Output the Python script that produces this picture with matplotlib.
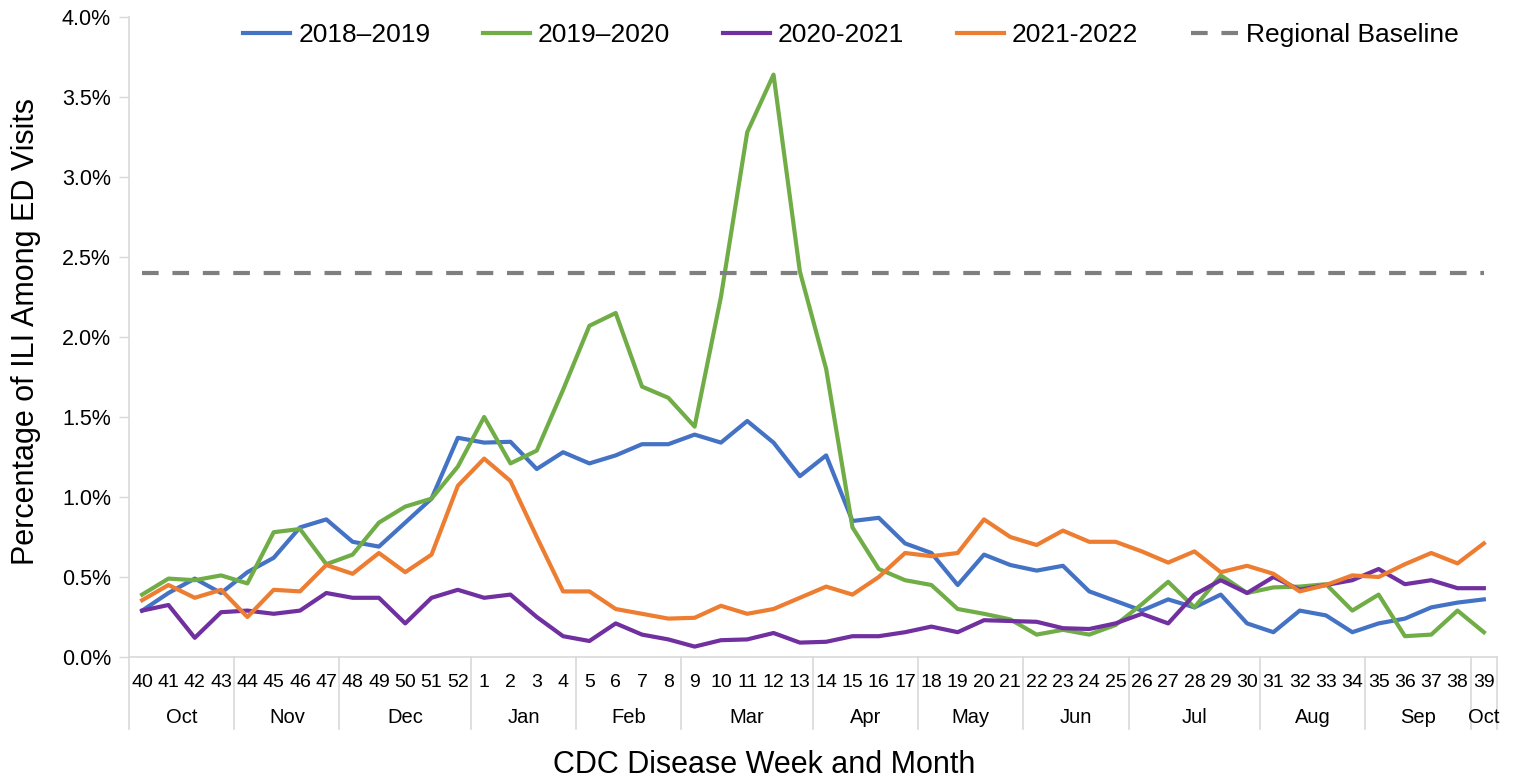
import numpy as np
import matplotlib
matplotlib.use("Agg")
import matplotlib.pyplot as plt

plt.rcParams['font.family'] = ['Liberation Sans', 'DejaVu Sans']

weeks = list(range(40, 53)) + list(range(1, 40))

s1819 = [0.29, 0.40, 0.49, 0.40, 0.53, 0.62, 0.81, 0.86, 0.72, 0.69, 0.84, 0.99, 1.37,
         1.34, 1.345, 1.175, 1.28, 1.21, 1.26, 1.33, 1.33, 1.39, 1.34,
         1.475, 1.34, 1.13, 1.26, 0.85, 0.87, 0.71, 0.65, 0.45, 0.64,
         0.575, 0.54, 0.57, 0.41, 0.35, 0.29, 0.36, 0.31, 0.39, 0.21,
         0.155, 0.29, 0.26, 0.155, 0.21, 0.24, 0.31, 0.34, 0.36]
s1920 = [0.39, 0.49, 0.48, 0.51, 0.46, 0.78, 0.80, 0.58, 0.64, 0.84, 0.94, 0.99, 1.19,
         1.50, 1.21, 1.29, 1.67, 2.07, 2.15, 1.69, 1.62, 1.44, 2.25,
         3.28, 3.64, 2.41, 1.80, 0.81, 0.55, 0.48, 0.45, 0.30, 0.27,
         0.235, 0.14, 0.17, 0.14, 0.20, 0.33, 0.47, 0.31, 0.51, 0.40,
         0.435, 0.44, 0.455, 0.29, 0.39, 0.13, 0.14, 0.29, 0.155]
s2021 = [0.29, 0.325, 0.12, 0.28, 0.29, 0.27, 0.29, 0.40, 0.37, 0.37, 0.21, 0.37, 0.42,
         0.37, 0.39, 0.25, 0.13, 0.10, 0.21, 0.14, 0.11, 0.065, 0.105,
         0.11, 0.15, 0.09, 0.095, 0.13, 0.13, 0.155, 0.19, 0.155, 0.23,
         0.225, 0.22, 0.18, 0.175, 0.21, 0.27, 0.21, 0.39, 0.48, 0.40,
         0.50, 0.42, 0.45, 0.48, 0.55, 0.455, 0.48, 0.43, 0.43]
s2122 = [0.355, 0.45, 0.37, 0.42, 0.25, 0.42, 0.41, 0.575, 0.52, 0.65, 0.53, 0.64, 1.07,
         1.24, 1.10, 0.75, 0.41, 0.41, 0.30, 0.27, 0.24, 0.245, 0.32,
         0.27, 0.30, 0.37, 0.44, 0.39, 0.50, 0.65, 0.63, 0.65, 0.86,
         0.75, 0.70, 0.79, 0.72, 0.72, 0.66, 0.59, 0.66, 0.53, 0.57,
         0.52, 0.41, 0.45, 0.51, 0.50, 0.58, 0.65, 0.585, 0.71]
baseline = 2.4

months = ['Oct', 'Nov', 'Dec', 'Jan', 'Feb', 'Mar', 'Apr', 'May', 'Jun', 'Jul', 'Aug', 'Sep', 'Oct']
month_weeks = [4, 4, 5, 4, 4, 5, 4, 4, 4, 5, 4, 4, 1]

x = np.arange(len(weeks))
grey = '#D9D9D9'

fig = plt.figure(figsize=(15.13, 7.81), dpi=100)
ax = fig.add_axes([129/1513, 1-657/781, 1368/1513, 640/781])

ax.plot(x, s1819, color='#4472C4', lw=3, label='2018\u20132019')
ax.plot(x, s1920, color='#70AD47', lw=3, label='2019\u20132020')
ax.plot(x, s2021, color='#7030A0', lw=3, label='2020-2021')
ax.plot(x, s2122, color='#ED7D31', lw=3, label='2021-2022')
ax.plot([x[0], x[-1]], [baseline, baseline], color='#7F7F7F', lw=3,
        dashes=(4, 3.3), label='Regional Baseline')

ax.set_xlim(-0.5, len(weeks) - 0.5)
ax.set_ylim(0, 4.0)
ax.set_yticks(np.arange(0, 4.01, 0.5))
ax.set_yticklabels(['%.1f%%' % v for v in np.arange(0, 4.01, 0.5)], fontsize=15.5)
ax.set_xticks(x)
ax.set_xticklabels([str(w) for w in weeks], fontsize=14)
ax.tick_params(axis='x', length=0, pad=12)
ax.tick_params(axis='y', length=7, width=1, color=grey, pad=6)

for s in ['top', 'right']:
    ax.spines[s].set_visible(False)
for s in ['left', 'bottom']:
    ax.spines[s].set_color(grey)
    ax.spines[s].set_linewidth(1.2)

# month groups under the week numbers
trans = ax.get_xaxis_transform()
start = 0
edges = [0]
for m, n in zip(months, month_weeks):
    ax.text(start + n/2 - 0.5, -0.094, m, transform=trans, ha='center', va='center', fontsize=14.5)
    start += n
    edges.append(start)
for e in edges:
    ax.plot([e - 0.5, e - 0.5], [0, -0.1125], transform=trans, color=grey, lw=1.2, clip_on=False)

ax.set_ylabel('Percentage of ILI Among ED Visits', fontsize=22)
ax.yaxis.set_label_coords(-0.064, 0.508)
fig.text(764/1513, 1-765/781, 'CDC Disease Week and Month', fontsize=22, ha='center', va='center')

fig.legend(loc='center', bbox_to_anchor=(851/1513, 1-35/781), ncol=5, frameon=False,
           fontsize=19, handlelength=1.78, handletextpad=0.3, columnspacing=2.0)

fig.savefig('out.png', dpi=100)
